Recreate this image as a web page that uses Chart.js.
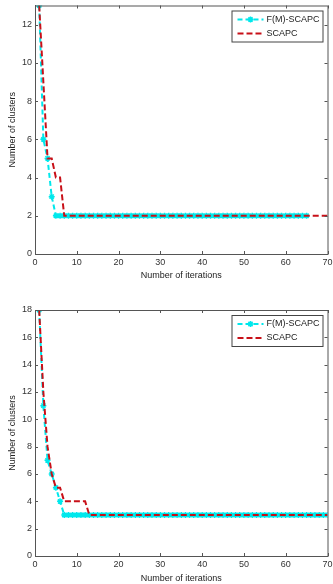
<!DOCTYPE html>
<html>
<head>
<meta charset="utf-8">
<script src="https://cdn.jsdelivr.net/npm/chart.js@4"></script>
<style>
  body { margin: 0; background: #fff; }
  .box { position: absolute; left: 0; width: 333px; }
  #top { top: 0; height: 290px; }
  #bottom { top: 290px; height: 294px; }
</style>
</head>
<body>
<div class="box" id="top"><canvas id="chart1"></canvas></div>
<div class="box" id="bottom"><canvas id="chart2"></canvas></div>
<script>
// legend names
const seriesNames = ['F(M)-SCAPC', 'SCAPC'];

// top plot, iterations 1..65 for F(M)-SCAPC, 1..70 for SCAPC
const topFm = [13, 6, 5, 3, 2, 2, 2, 2, 2, 2,
  2, 2, 2, 2, 2, 2, 2, 2, 2, 2,
  2, 2, 2, 2, 2, 2, 2, 2, 2, 2,
  2, 2, 2, 2, 2, 2, 2, 2, 2, 2,
  2, 2, 2, 2, 2, 2, 2, 2, 2, 2,
  2, 2, 2, 2, 2, 2, 2, 2, 2, 2,
  2, 2, 2, 2, 2];
const topScapc = [13, 9, 5, 5, 4, 4, 2, 2, 2, 2,
  2, 2, 2, 2, 2, 2, 2, 2, 2, 2,
  2, 2, 2, 2, 2, 2, 2, 2, 2, 2,
  2, 2, 2, 2, 2, 2, 2, 2, 2, 2,
  2, 2, 2, 2, 2, 2, 2, 2, 2, 2,
  2, 2, 2, 2, 2, 2, 2, 2, 2, 2,
  2, 2, 2, 2, 2, 2, 2, 2, 2, 2];

// bottom plot, iterations 1..70
const bottomFm = [18, 11, 7, 6, 5, 4, 3, 3, 3, 3,
  3, 3, 3, 3, 3, 3, 3, 3, 3, 3,
  3, 3, 3, 3, 3, 3, 3, 3, 3, 3,
  3, 3, 3, 3, 3, 3, 3, 3, 3, 3,
  3, 3, 3, 3, 3, 3, 3, 3, 3, 3,
  3, 3, 3, 3, 3, 3, 3, 3, 3, 3,
  3, 3, 3, 3, 3, 3, 3, 3, 3, 3];
const bottomScapc = [18, 12, 8, 6, 5, 5, 4, 4, 4, 4,
  4, 4, 3, 3, 3, 3, 3, 3, 3, 3,
  3, 3, 3, 3, 3, 3, 3, 3, 3, 3,
  3, 3, 3, 3, 3, 3, 3, 3, 3, 3,
  3, 3, 3, 3, 3, 3, 3, 3, 3, 3,
  3, 3, 3, 3, 3, 3, 3, 3, 3, 3,
  3, 3, 3, 3, 3, 3, 3, 3, 3, 3];

// axes
const xMax = 70, xStep = 10;
const topYMax = 13, bottomYMax = 18, yStep = 2;
const xTitle = 'Number of iterations';
const yTitle = 'Number of clusters';

const CYAN = 'rgb(0,232,236)';
const RED = 'rgb(200,16,24)';
const AXIS = '#555';
const FONT = 'Liberation Sans';

const toPoints = (arr) => arr.map((v, i) => ({ x: i + 1, y: v }));

// box around plot with inward tick marks, like matlab
const framePlugin = {
  id: 'frame',
  afterDraw(chart) {
    const { ctx, chartArea: a, scales } = chart;
    ctx.save();
    ctx.strokeStyle = AXIS;
    ctx.lineWidth = 1;
    ctx.strokeRect(a.left + 0.5, a.top + 0.5, a.right - a.left, a.bottom - a.top);
    ctx.beginPath();
    scales.x.ticks.forEach(t => {
      const px = Math.round(scales.x.getPixelForValue(t.value)) + 0.5;
      ctx.moveTo(px, a.bottom); ctx.lineTo(px, a.bottom - 3);
      ctx.moveTo(px, a.top); ctx.lineTo(px, a.top + 3);
    });
    scales.y.ticks.forEach(t => {
      const py = Math.round(scales.y.getPixelForValue(t.value)) + 0.5;
      ctx.moveTo(a.left, py); ctx.lineTo(a.left + 3, py);
      ctx.moveTo(a.right, py); ctx.lineTo(a.right - 3, py);
    });
    ctx.stroke();

    // legend box in the upper right corner
    const w = 91, h = 31;
    const bx = a.right - w - 5, by = a.top + 5;
    ctx.fillStyle = '#fff';
    ctx.fillRect(bx, by, w, h);
    ctx.strokeStyle = '#444';
    ctx.strokeRect(bx + 0.5, by + 0.5, w, h);
    ctx.font = '9px "' + FONT + '"';
    ctx.textBaseline = 'middle';
    chart.data.datasets.forEach((ds, i) => {
      const y = by + 9 + i * 14;
      ctx.strokeStyle = ds.borderColor;
      ctx.lineWidth = 2;
      ctx.setLineDash(ds.borderDash);
      ctx.beginPath();
      ctx.moveTo(bx + 6, y); ctx.lineTo(bx + 32, y);
      ctx.stroke();
      ctx.setLineDash([]);
      if (ds.pointStyle === 'star') {
        ctx.lineWidth = 1.5;
        ctx.beginPath();
        const cx = bx + 19, r = 3;
        for (let k = 0; k < 4; k++) {
          const ang = k * Math.PI / 4;
          ctx.moveTo(cx - r * Math.cos(ang), y - r * Math.sin(ang));
          ctx.lineTo(cx + r * Math.cos(ang), y + r * Math.sin(ang));
        }
        ctx.stroke();
      }
      ctx.fillStyle = '#222';
      ctx.fillText(ds.label, bx + 35, y);
    });
    ctx.restore();
  }
};

function makeChart(id, fm, scapc, yMax, padTop, padBottom, xHeight) {
  return new Chart(document.getElementById(id), {
    type: 'line',
    data: {
      datasets: [
        {
          label: seriesNames[0],
          data: toPoints(fm),
          borderColor: CYAN,
          backgroundColor: CYAN,
          borderWidth: 2,
          borderDash: [5, 3],
          pointStyle: 'star',
          pointRadius: 3,
          pointBorderWidth: 1.5,
          pointBorderColor: CYAN,
          order: 2
        },
        {
          label: seriesNames[1],
          data: toPoints(scapc),
          borderColor: RED,
          borderWidth: 2,
          borderDash: [6, 3],
          pointRadius: 0,
          order: 1
        }
      ]
    },
    options: {
      responsive: true,
      maintainAspectRatio: false,
      animation: false,
      layout: { padding: { top: padTop, right: 2, left: 0, bottom: padBottom } },
      plugins: {
        legend: { display: false },
        tooltip: { enabled: false }
      },
      scales: {
        x: {
          type: 'linear',
          min: 0,
          max: xMax,
          grid: { display: false, drawTicks: false },
          border: { display: true, color: AXIS },
          ticks: {
            stepSize: xStep,
            padding: 3,
            color: '#333',
            maxRotation: 0,
            font: { family: FONT, size: 9 }
          },
          title: {
            display: true,
            text: xTitle,
            color: '#222',
            padding: { top: 0, bottom: 0 },
            font: { family: FONT, size: 9 }
          },
          afterFit(scale) {
            scale.height = xHeight;
            scale.paddingRight = 0;
            scale.paddingLeft = 0;
          }
        },
        y: {
          min: 0,
          max: yMax,
          grid: { display: false, drawTicks: false },
          border: { display: true, color: AXIS },
          ticks: {
            stepSize: yStep,
            includeBounds: false,
            padding: 3,
            color: '#333',
            font: { family: FONT, size: 9 }
          },
          title: {
            display: true,
            text: yTitle,
            color: '#222',
            padding: { top: 7, bottom: 0 },
            font: { family: FONT, size: 9 }
          },
          afterFit(scale) {
            scale.width = 35;
            scale.paddingTop = 0;
            scale.paddingBottom = 0;
          }
        }
      }
    },
    plugins: [framePlugin]
  });
}

makeChart('chart1', topFm, topScapc, topYMax, 5, 9, 27);
makeChart('chart2', bottomFm, bottomScapc, bottomYMax, 20, 0, 28);
</script>
</body>
</html>
